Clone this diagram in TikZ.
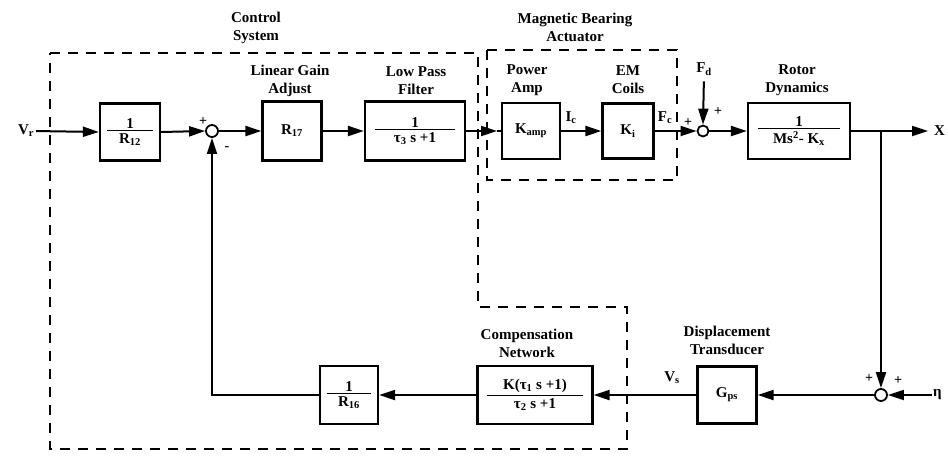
\documentclass[tikz,border=0pt]{standalone}
\usepackage{fontspec}
\setmainfont{Liberation Serif}
\usetikzlibrary{arrows.meta}
\newcommand\frc[3]{\vbox{\hbox to #3{\hss#1\hss}\kern1.5pt\hrule height 1.5pt\kern2.5pt\hbox to #3{\hss#2\hss}}}
\newcommand\sbs[1]{\textsubscript{#1}}
\begin{document}
\begin{tikzpicture}[x=1pt,y=-1pt,
  font=\fontsize{15}{18}\selectfont\bfseries,
  blk/.style={draw,line width=2.2pt,inner sep=0pt},
  sumj/.style={circle,draw,line width=1.8pt,minimum size=12pt,inner sep=0pt},
  conn/.style={line width=2pt},
  arr/.style={conn,-{Triangle[length=16pt,width=10pt]}},
  lbl/.style={align=center,inner sep=0pt},
  sgn/.style={inner sep=0pt,font=\fontsize{14}{14}\selectfont\bfseries},
  dsh/.style={line width=2.2pt,dash pattern=on 10pt off 8pt}]
\useasboundingbox (0,0) rectangle (948,456);

% dashed groups
\draw[dsh] (50,53) -- (478,53) -- (478,307) -- (627,307) -- (627,449) -- (50,449) -- cycle;
\draw[dsh] (487,50) rectangle (677,180);

% group labels
\node[lbl] (lcs) at (256,28) {Control\\System};
\node[lbl] (lmb) at (575,27) {Magnetic Bearing\\Actuator};
\node[lbl] (llg) at (290,81) {Linear Gain\\Adjust};
\node[lbl] (llp) at (416,81) {Low Pass\\Filter};
\node[lbl] (lpa) at (527,80) {Power\\Amp};
\node[lbl] (lem) at (628,80) {EM\\Coils};
\node[lbl] (lrd) at (797,80) {Rotor\\Dynamics};
\node[lbl] (ldt) at (727,340) {Displacement\\Transducer};
\node[lbl] (lcn) at (527,343) {Compensation\\Network};

% top row
\node[lbl] (vr) at (26,131) {V\sbs{r}};
\node[blk,minimum width=60pt,minimum height=57pt] (r12) at (130,132) {\frc{1}{R\sbs{12}}{46pt}};
\node[sumj] (s1) at (212,131) {};
\node[blk,minimum width=59pt,minimum height=59pt] (r17) at (292,131) {R\sbs{17}};
\node[blk,minimum width=100pt,minimum height=59pt] (lpf) at (415,131) {\frc{1}{τ\sbs{3} s +1}{80pt}};
\node[blk,minimum width=58pt,minimum height=56pt] (amp) at (531,131) {K\sbs{amp}};
\node[blk,minimum width=51pt,minimum height=55pt] (coil) at (628,131) {K\sbs{i}};
\node[sumj,minimum size=11pt] (s2) at (703,131) {};
\node[blk,minimum width=102pt,minimum height=56pt] (rot) at (799,131) {\frc{1}{Ms\textsuperscript{2}- K\sbs{x}}{82pt}};
\node[lbl,anchor=west] (X) at (934,131) {X};
\node[lbl] (fd) at (704,69) {F\sbs{d}};
\coordinate (br) at (881,131);
\coordinate (tipA) at (497,131);

% bottom row
\node[sumj] (s3) at (881,395) {};
\node[lbl,anchor=west] (eta) at (933,395) {η};
\node[blk,minimum width=59pt,minimum height=57pt] (gps) at (727,395) {G\sbs{ps}};
\node[blk,minimum width=115pt,minimum height=58pt] (comp) at (535,395) {\frc{K(τ\sbs{1} s +1)}{τ\sbs{2} s +1}{96pt}};
\node[blk,minimum width=58pt,minimum height=58pt] (r16) at (349,395) {\frc{1}{R\sbs{16}}{44pt}};

% signal labels
\node[lbl] (ic) at (571,118) {I\sbs{c}};
\node[lbl] (fc) at (665,118) {F\sbs{c}};
\node[lbl] (vs) at (672,378) {V\sbs{s}};
\node[sgn] (p1) at (203,122) {+};
\node[sgn] (m1) at (227,149) {-};
\node[sgn] (p2) at (688,123) {+};
\node[sgn] (p3) at (718,112) {+};
\node[sgn] (p4) at (869,379) {+};
\node[sgn] (p5) at (898,381) {+};

% connectors
\draw[arr,shorten <=2pt] (vr.east) -- (r12.west);
\draw[arr] (r12.east) -- (s1.west);
\draw[arr] (s1.east) -- (r17.west);
\draw[arr] (r17.east) -- (lpf.west);
\draw[arr] (lpf.east) -- (tipA);
\draw[conn] (tipA) -- (amp.west);
\draw[arr] (amp.east) -- (coil.west);
\draw[arr] (coil.east) -- (s2.west);
\draw[arr,shorten <=6pt] (fd.south) -- (s2.north);
\draw[arr] (s2.east) -- (rot.west);
\draw[arr,shorten >=6pt] (rot.east) -- (X.west);
\draw[arr] (br) -- (s3.north);
\draw[arr,shorten <=1pt] (eta.west) -- (s3.east);
\draw[arr] (s3.west) -- (gps.east);
\draw[arr] (gps.west) -- (comp.east);
\draw[arr] (comp.west) -- (r16.east);
\draw[arr] (r16.west) -| (s1.south);
\end{tikzpicture}
\end{document}
